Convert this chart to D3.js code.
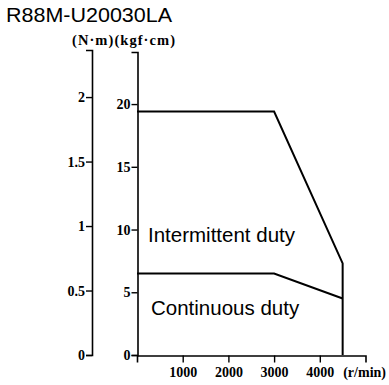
<!DOCTYPE html>
<html>
<head>
<meta charset="utf-8">
<script src="https://cdn.jsdelivr.net/npm/d3@7"></script>
<style>
  html, body { margin: 0; padding: 0; background: #fff; }
  svg { display: block; }
  .tick text { font-family: "Liberation Serif", "Times New Roman", serif; font-weight: bold; }
</style>
</head>
<body>
<svg id="chart" width="389" height="385"></svg>
<script>
// Torque-speed characteristic for the R88M-U20030LA servo motor
const modelName = "R88M-U20030LA";

// Shaft speed breakpoints (r/min)
const speedPoints = [0, 3000, 4500, 4500];
// Intermittent duty torque limit (kgf·cm), closed down to zero at max speed
const intermittentTorque = [19.4, 19.4, 7.3, 0];
// Continuous duty torque limit (kgf·cm)
const continuousSpeed = [0, 3000, 4500];
const continuousTorque = [6.5, 6.5, 4.5];

// Tick labels
const nmTicks = [0, 0.5, 1, 1.5, 2];
const kgfTicks = [0, 5, 10, 15, 20];
const speedTicks = [1000, 2000, 3000, 4000];

const svg = d3.select("#chart");

const x = d3.scaleLinear().domain([0, 5000]).range([137, 365.5]);
const yKgf = d3.scaleLinear().domain([0, 24.15]).range([355, 52]);
const yNm = d3.scaleLinear().domain([0, 2.365]).range([355, 50]);

const serif = "Liberation Serif, Times New Roman, serif";

// Title
svg.append("text")
  .attr("x", 6).attr("y", 22)
  .attr("font-family", "Liberation Sans, Arial, sans-serif")
  .attr("font-size", 20)
  .attr("textLength", 166).attr("lengthAdjust", "spacingAndGlyphs")
  .text(modelName);

// Unit header over the two torque axes
svg.append("text")
  .attr("x", 72).attr("y", 45)
  .attr("font-family", serif)
  .attr("font-weight", "bold")
  .attr("font-size", 14.5)
  .attr("textLength", 103).attr("lengthAdjust", "spacing")
  .text("(N·m)(kgf·cm)");

function styleAxis(g) {
  g.selectAll("path.domain").attr("stroke-width", 1.6);
  g.selectAll(".tick line").attr("stroke-width", 1.4);
  g.selectAll(".tick text").attr("font-size", 14).attr("fill", "#000");
}

// N·m axis
svg.append("g")
  .attr("transform", `translate(92,0)`)
  .call(d3.axisLeft(yNm).tickValues(nmTicks).tickSizeOuter(0).tickSize(6).tickPadding(1)
    .tickFormat(d => String(d)))
  .call(styleAxis);

// kgf·cm axis
svg.append("g")
  .attr("transform", `translate(137.5,0)`)
  .call(d3.axisLeft(yKgf).tickValues(kgfTicks).tickSizeOuter(0).tickSize(6).tickPadding(1)
    .tickFormat(d => String(d)))
  .call(styleAxis);

// Speed axis
svg.append("g")
  .attr("transform", `translate(0,355.5)`)
  .call(d3.axisBottom(x).tickValues(speedTicks).tickSizeOuter(0).tickSize(7).tickPadding(5)
    .tickFormat(d => String(d)))
  .call(styleAxis);

svg.append("text")
  .attr("x", x(4980)).attr("y", 377)
  .attr("text-anchor", "middle")
  .attr("font-family", serif)
  .attr("font-weight", "bold")
  .attr("font-size", 14)
  .text("(r/min)");

// Torque limit curves
const line = d3.line().x(d => x(d[0])).y(d => yKgf(d[1]));

svg.append("path")
  .datum(speedPoints.map((s, i) => [s, intermittentTorque[i]]))
  .attr("d", line)
  .attr("fill", "none").attr("stroke", "#000").attr("stroke-width", 2);

svg.append("path")
  .datum(continuousSpeed.map((s, i) => [s, continuousTorque[i]]))
  .attr("d", line)
  .attr("fill", "none").attr("stroke", "#000").attr("stroke-width", 2);

// Region labels
const labelFont = "Liberation Sans, Arial, sans-serif";
svg.append("text")
  .attr("x", 148).attr("y", 242)
  .attr("font-family", labelFont).attr("font-size", 20.5)
  .text("Intermittent duty");
svg.append("text")
  .attr("x", 151).attr("y", 315)
  .attr("font-family", labelFont).attr("font-size", 20.5)
  .text("Continuous duty");
</script>
</body>
</html>
